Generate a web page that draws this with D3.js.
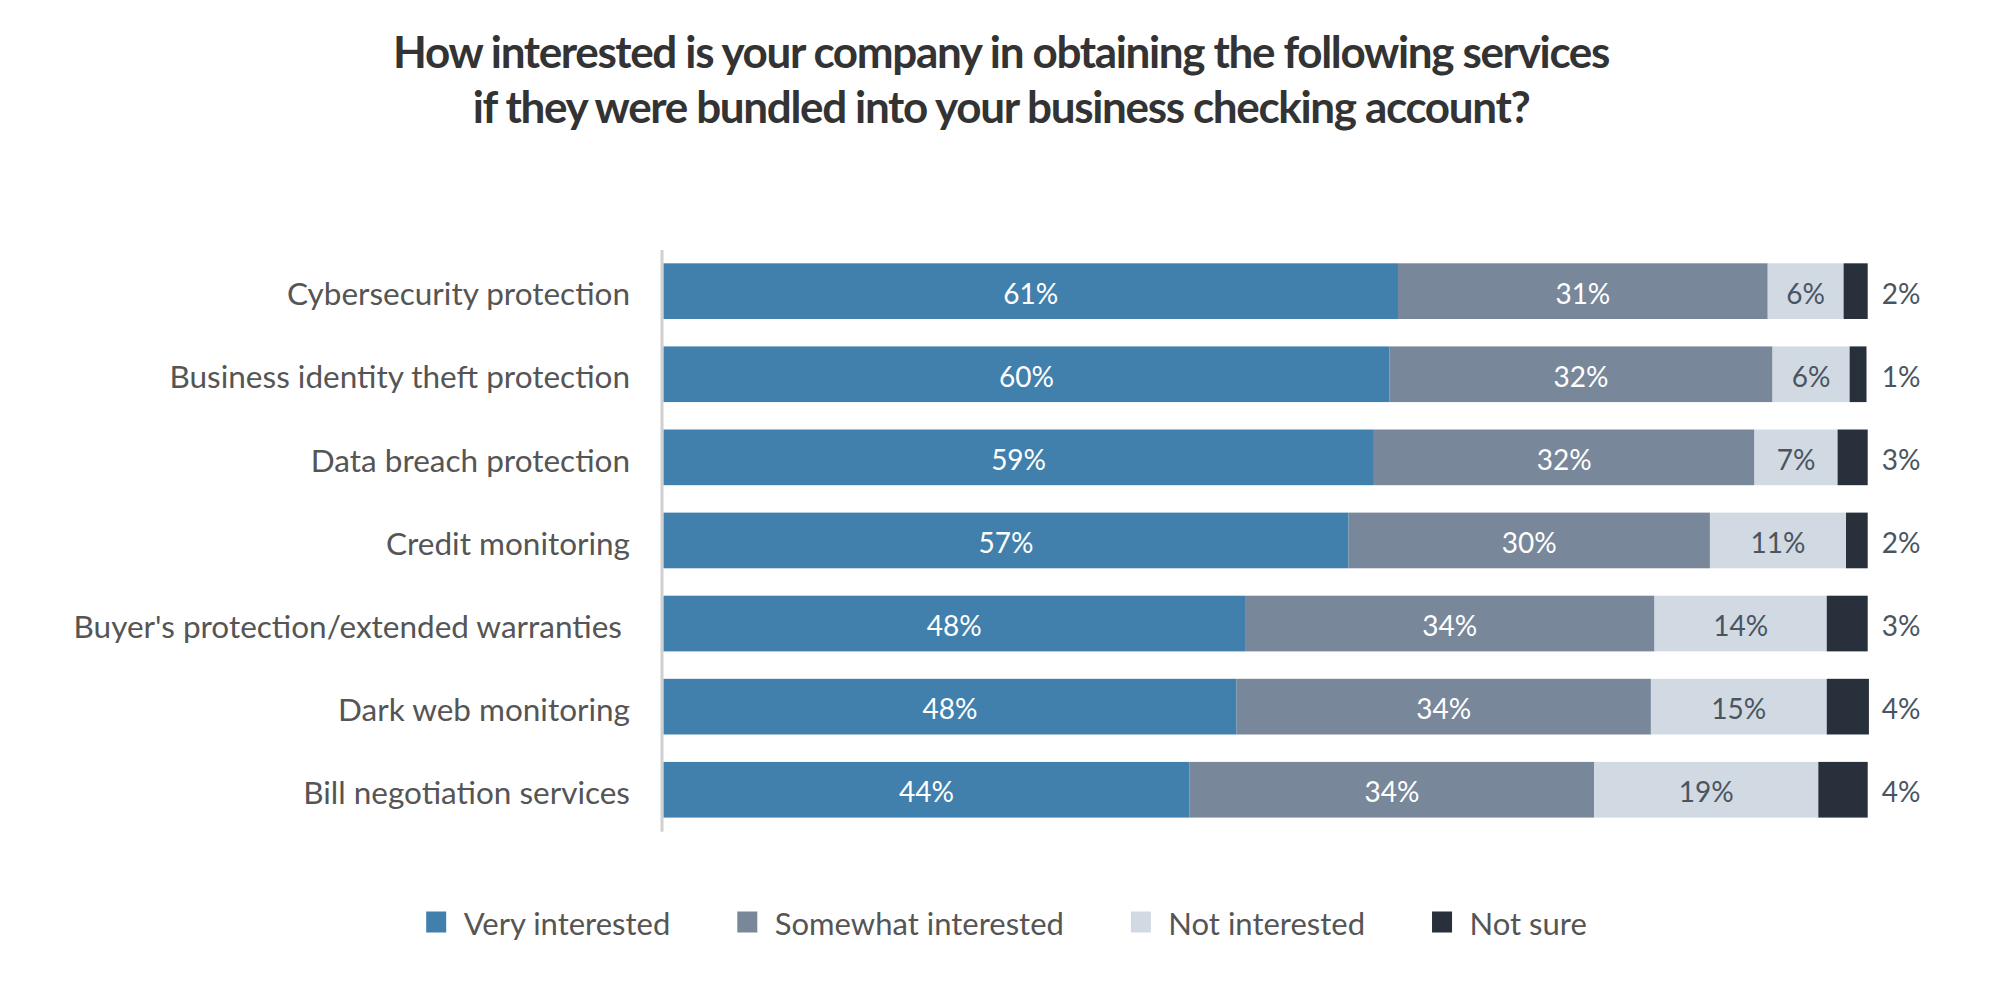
<!DOCTYPE html>
<html>
<head>
<meta charset="utf-8">
<script src="https://cdn.jsdelivr.net/npm/d3@7"></script>
<style>
  html, body { margin: 0; padding: 0; background: #fff; }
  svg { display: block; font-family: Lato, "Open Sans", sans-serif; }
</style>
</head>
<body>
<svg id="chart" width="2006" height="998"></svg>
<script>
const titleLines = [
  "How interested is your company in obtaining the following services",
  "if they were bundled into your business checking account?"
];
const categories = [
  "Cybersecurity protection",
  "Business identity theft protection",
  "Data breach protection",
  "Credit monitoring",
  "Buyer's protection/extended warranties ",
  "Dark web monitoring",
  "Bill negotiation services"
];
const seriesNames = ["Very interested", "Somewhat interested", "Not interested", "Not sure"];
// values (percent); labels show them rounded
const veryInterested     = [61.0, 60.3, 59.0, 56.9, 48.3, 47.6, 43.7];
const somewhatInterested = [30.7, 31.8, 31.6, 30.0, 34.0, 34.4, 33.6];
const notInterested      = [6.3, 6.4, 6.9, 11.3, 14.3, 14.6, 18.6];
const notSure            = [2.0, 1.4, 2.5, 1.8, 3.4, 3.5, 4.1];
const seriesColors = ["#4180ad", "#78879a", "#d1dae3", "#27303b"];
const labelColors  = ["#ffffff", "#ffffff", "#4a5561", "#4a5561"];

const allSeries = [veryInterested, somewhatInterested, notInterested, notSure];
const rows = categories.map((c, i) => {
  const o = { category: c };
  seriesNames.forEach((s, k) => { o[s] = allSeries[k][i]; });
  return o;
});

const svg = d3.select("#chart");
const left = 663.3, right = 1867.7;

const x = d3.scaleLinear().domain([0, 100]).range([left, right]);
const y = d3.scaleBand().domain(categories).range([249.6, 831.3]).paddingInner(0.33).paddingOuter(0.165);
const color = d3.scaleOrdinal().domain(seriesNames).range(seriesColors);

// Title
svg.append("g").selectAll("text").data(titleLines).join("text")
  .attr("x", 1001).attr("y", (d, i) => 67.5 + i * 55)
  .attr("text-anchor", "middle")
  .attr("font-size", 44).attr("font-weight", 700)
  .attr("letter-spacing", "-1.35px")
  .attr("fill", "#333333")
  .text(d => d);

const stacked = d3.stack().keys(seriesNames)(rows);

const layers = svg.append("g").selectAll("g").data(stacked).join("g")
  .attr("fill", d => color(d.key));
layers.selectAll("rect").data(d => d).join("rect")
  .attr("x", d => x(d[0]))
  .attr("y", d => y(d.data.category))
  .attr("width", d => x(d[1]) - x(d[0]))
  .attr("height", y.bandwidth());

// value labels
stacked.forEach((layer, k) => {
  svg.append("g").selectAll("text").data(layer).join("text")
    .attr("x", d => k === 3 ? x(100) + 14 : (x(d[0]) + x(d[1])) / 2)
    .attr("y", d => y(d.data.category) + y.bandwidth() / 2)
    .attr("dy", "0.45em")
    .attr("text-anchor", k === 3 ? "start" : "middle")
    .attr("font-size", 28)
    .attr("fill", labelColors[k])
    .text(d => Math.round(d.data[layer.key]) + "%");
});

// y axis
const yAxis = d3.axisLeft(y).tickSize(0).tickPadding(31.5);
const gy = svg.append("g").attr("transform", `translate(${left - 1.8},0)`).call(yAxis);
gy.select(".domain").attr("stroke", "#d0d0d0").attr("stroke-width", 3);
gy.selectAll(".tick text")
  .attr("font-size", 31.5).attr("font-family", "Lato, sans-serif")
  .attr("dy", "0.45em")
  .attr("fill", "#555555")
  .style("white-space", "pre");

// legend
const legend = svg.append("g");
const items = legend.selectAll("g").data(seriesNames).join("g");
items.append("rect").attr("width", 20).attr("height", 21).attr("y", -10.5)
  .attr("fill", d => color(d));
items.append("text").attr("x", 37.5).attr("dy", "0.41em")
  .attr("font-size", 31).attr("fill", "#555555").text(d => d);
let cx = 0;
items.each(function() {
  const w = this.getBBox().width;
  d3.select(this).attr("transform", `translate(${cx},922)`);
  cx += w + 67;
});
const totalW = cx - 67;
legend.attr("transform", `translate(${1006.5 - totalW / 2},0)`);
</script>
</body>
</html>
